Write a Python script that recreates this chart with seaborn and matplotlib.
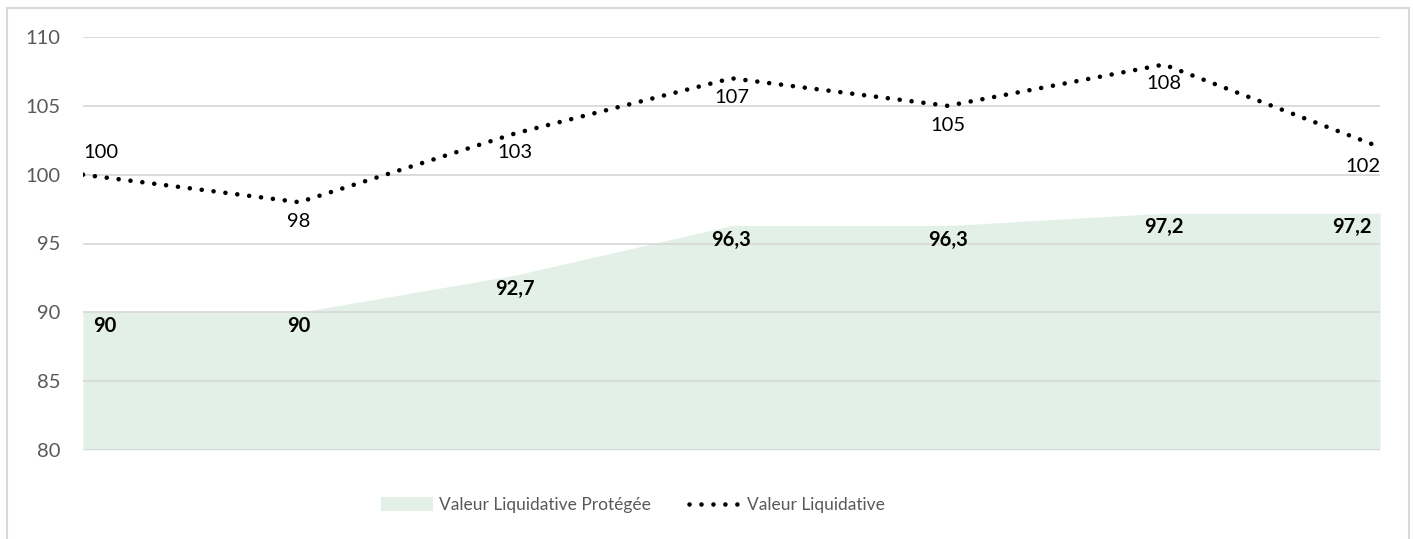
import numpy as np
import pandas as pd
import matplotlib
matplotlib.use('Agg')
import matplotlib.pyplot as plt
from matplotlib.patches import Patch, Rectangle
from matplotlib.lines import Line2D
import seaborn as sns

# data
periods = [0, 1, 2, 3, 4, 5, 6]
vl_protegee = [90, 90, 92.7, 96.3, 96.3, 97.2, 97.2]
vl = [100, 98, 103, 107, 105, 108, 102]
y_ticks = [80, 85, 90, 95, 100, 105, 110]
label_protegee = 'Valeur Liquidative Protégée'
label_vl = 'Valeur Liquidative'

FILL = '#E2F0E8'
GRID = '#D9D9D9'
GREY = '#595959'
LW = 3.3
DOTS = [0.01, 2.6]

sns.set_style('white')
plt.rcParams['font.family'] = ['Lato', 'DejaVu Sans']

df = pd.DataFrame({'periode': periods, 'vl': vl, 'vlp': vl_protegee})

fig = plt.figure(figsize=(14.13, 5.39), dpi=100)
ax = fig.add_axes([83 / 1413, 1 - 450 / 539, (1380 - 83) / 1413, (450 - 37) / 539])

# outer frame
fig.patches.append(Rectangle((7 / 1413, -0.05), (1409 - 7) / 1413, 1.05 - 8 / 539,
                             transform=fig.transFigure, fill=False,
                             edgecolor=GRID, linewidth=1.5, zorder=0))

ax.fill_between(df['periode'], 80, df['vlp'], color=FILL, linewidth=0, zorder=1)
sns.lineplot(data=df, x='periode', y='vl', ax=ax, color='black',
             linewidth=LW, zorder=3)
l = ax.lines[0]
l.set_dashes(DOTS)
l.set_dash_capstyle('round')

ax.set_ylim(80, 110)
ax.set_xlim(0, 6)
ax.set_yticks(y_ticks)
ax.set_xticks([])
ax.set_xlabel('')
ax.set_ylabel('')
for y in y_ticks:
    ax.axhline(y, color=GRID, linewidth=1.3, zorder=2)
for s in ax.spines.values():
    s.set_visible(False)
ax.tick_params(axis='y', length=0, pad=16, labelsize=14.5, labelcolor=GREY)

n = len(periods)
# labels of the dotted line
for i, (x, y) in enumerate(zip(periods, vl)):
    ha = 'left' if i == 0 else ('right' if i == n - 1 else 'center')
    dy = 16 if i == 0 else -14
    ax.annotate(f'{y:g}', (x, y), xytext=(0, dy), textcoords='offset points',
                ha=ha, va='center', fontsize=14.5, color='black', zorder=4)

# labels of the protected value
for i, (x, y) in enumerate(zip(periods, vl_protegee)):
    ha = 'left' if i == 0 else ('right' if i == n - 1 else 'center')
    dx = 7 if i == 0 else (-6 if i == n - 1 else 0)
    txt = f'{y:g}'.replace('.', ',')
    ax.annotate(txt, (x, y), xytext=(dx, -10), textcoords='offset points',
                ha=ha, va='center', fontsize=14.5, fontweight='bold',
                color='black', zorder=4)

handles = [Patch(facecolor=FILL, edgecolor='none'),
           Line2D([0], [0], color='black', linewidth=LW, dashes=DOTS,
                  dash_capstyle='round')]
leg = fig.legend(handles, [label_protegee, label_vl], loc='center',
                 bbox_to_anchor=(633 / 1413, 1 - 505 / 539), ncol=2,
                 frameon=False, fontsize=12.5, handlelength=3.0,
                 handleheight=0.9, handletextpad=0.35, columnspacing=2.2)
for t in leg.get_texts():
    t.set_color(GREY)

fig.savefig('out.png', dpi=100)
